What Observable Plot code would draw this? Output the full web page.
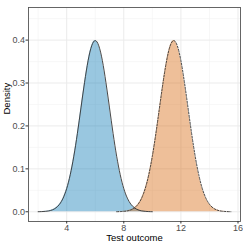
<!DOCTYPE html>
<html>
<head>
<meta charset="utf-8">
<script src="https://cdn.jsdelivr.net/npm/d3@7"></script>
<script src="https://cdn.jsdelivr.net/npm/@observablehq/plot@0.6"></script>
<style>
  html, body { margin: 0; padding: 0; background: #fff; }
  #chart { width: 243px; height: 243px; }
  svg { font-family: "Liberation Sans", "DejaVu Sans", sans-serif; }
</style>
</head>
<body>
<div id="chart"></div>
<script>
// Group A (blue, solid outline)
const outcomeA = [2, 2.25, 2.5, 2.75, 3, 3.25, 3.5, 3.75, 4, 4.25, 4.5, 4.75, 5, 5.25, 5.5, 5.75, 6,
  6.25, 6.5, 6.75, 7, 7.25, 7.5, 7.75, 8, 8.25, 8.5, 8.75, 9, 9.25, 9.5, 9.75, 10];
const densityA = [0.0001, 0.0004, 0.0009, 0.0020, 0.0044, 0.0091, 0.0175, 0.0317, 0.0540, 0.0863, 0.1295, 0.1826, 0.2420, 0.3011, 0.3521, 0.3867, 0.3989,
  0.3867, 0.3521, 0.3011, 0.2420, 0.1826, 0.1295, 0.0863, 0.0540, 0.0317, 0.0175, 0.0091, 0.0044, 0.0020, 0.0009, 0.0004, 0.0001];
// Group B (orange, dashed outline)
const outcomeB = [7.5, 7.75, 8, 8.25, 8.5, 8.75, 9, 9.25, 9.5, 9.75, 10, 10.25, 10.5, 10.75, 11, 11.25, 11.5,
  11.75, 12, 12.25, 12.5, 12.75, 13, 13.25, 13.5, 13.75, 14, 14.25, 14.5, 14.75, 15, 15.25, 15.5];
const densityB = [0.0001, 0.0004, 0.0009, 0.0020, 0.0044, 0.0091, 0.0175, 0.0317, 0.0540, 0.0863, 0.1295, 0.1826, 0.2420, 0.3011, 0.3521, 0.3867, 0.3989,
  0.3867, 0.3521, 0.3011, 0.2420, 0.1826, 0.1295, 0.0863, 0.0540, 0.0317, 0.0175, 0.0091, 0.0044, 0.0020, 0.0009, 0.0004, 0.0001];

const xTicks = [4, 8, 12, 16];
const xMinor = [2, 6, 10, 14];
const yTicks = [0, 0.1, 0.2, 0.3, 0.4];
const yMinor = [0.05, 0.15, 0.25, 0.35, 0.45];

const A = outcomeA.map((x, i) => ({x, y: densityA[i]}));
const B = outcomeB.map((x, i) => ({x, y: densityB[i]}));

const chart = Plot.plot({
  width: 243,
  height: 243,
  marginLeft: 28,
  marginRight: 3,
  marginTop: 7,
  marginBottom: 22,
  style: {fontSize: "9px", color: "#4d4d4d", background: "#fff"},
  x: {domain: [1.325, 16.175], label: null},
  y: {domain: [-0.0227, 0.476], label: null},
  marks: [
    Plot.ruleX(xMinor, {stroke: "#f2f2f2", strokeWidth: 0.6}),
    Plot.ruleY(yMinor, {stroke: "#f2f2f2", strokeWidth: 0.6}),
    Plot.ruleX(xTicks, {stroke: "#ebebeb", strokeWidth: 1}),
    Plot.ruleY(yTicks, {stroke: "#ebebeb", strokeWidth: 1}),
    Plot.areaY(A, {x: "x", y: "y", fill: "#0072B2", fillOpacity: 0.4, curve: "natural"}),
    Plot.areaY(B, {x: "x", y: "y", fill: "#D55E00", fillOpacity: 0.4, curve: "natural"}),
    Plot.line(A, {x: "x", y: "y", stroke: "#333", strokeWidth: 0.9, curve: "natural"}),
    Plot.line(B, {x: "x", y: "y", stroke: "#333", strokeWidth: 0.9, strokeDasharray: "2,1.5", curve: "natural"}),
    Plot.frame({stroke: "#555", strokeWidth: 0.9}),
    Plot.axisX({ticks: xTicks, tickSize: 2.5, tickPadding: 0.5, tickFormat: d => d, stroke: "#333", fill: "#4d4d4d", fontSize: 9, label: null}),
    Plot.axisY({ticks: yTicks, tickSize: 2.5, tickPadding: 1, tickFormat: d3.format(".1f"), stroke: "#333", fill: "#4d4d4d", fontSize: 9, label: null}),
    Plot.text(["Test outcome"], {frameAnchor: "bottom", lineAnchor: "middle", dy: 16.5, fill: "#000", fontSize: 9.5}),
    Plot.text(["Density"], {frameAnchor: "left", lineAnchor: "middle", dx: -22, rotate: -90, fill: "#000", fontSize: 9.5})
  ]
});
document.getElementById("chart").appendChild(chart);
</script>
</body>
</html>
